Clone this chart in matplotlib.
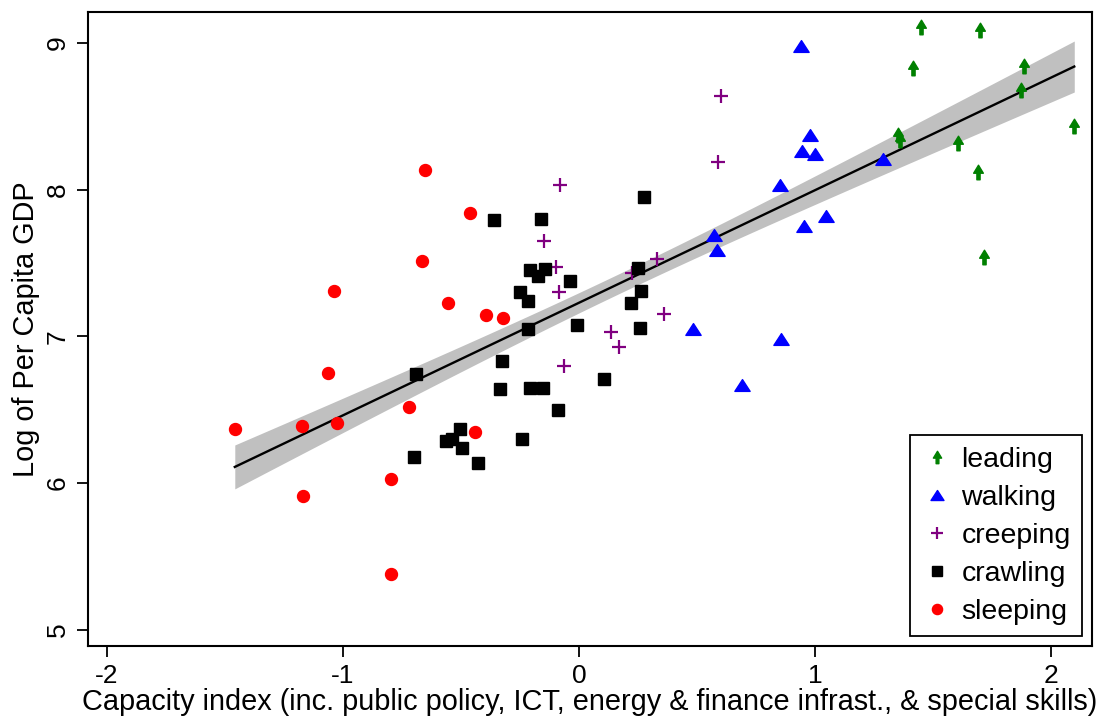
import numpy as np
import matplotlib
matplotlib.use("Agg")
import matplotlib.pyplot as plt
from matplotlib.path import Path

plt.rcParams['font.family'] = ['Liberation Sans', 'DejaVu Sans']
plt.rcParams['axes.unicode_minus'] = False

# data (capacity index, log GDP per capita)
leading_x = [1.448, 1.699, 1.414, 1.886, 1.873, 1.353, 1.360, 1.605, 2.099, 1.692, 1.716]
leading_y = [9.11, 9.09, 8.83, 8.84, 8.68, 8.37, 8.34, 8.32, 8.43, 8.12, 7.54]

walking_x = [0.941, 0.980, 0.945, 1.000, 0.852, 1.047, 0.952, 0.573, 0.585, 0.484, 0.857, 0.689, 1.290]
walking_y = [8.98, 8.37, 8.26, 8.24, 8.03, 7.82, 7.75, 7.69, 7.59, 7.05, 6.98, 6.67, 8.21]

creeping_x = [-0.082, -0.147, -0.095, -0.086, 0.329, 0.223, 0.362, 0.138, 0.171, -0.064, 0.602, 0.590]
creeping_y = [8.03, 7.65, 7.47, 7.30, 7.53, 7.43, 7.15, 7.03, 6.93, 6.80, 8.64, 8.19]

crawling_x = [-0.691, -0.697, -0.565, -0.539, -0.504, -0.496, -0.429, -0.360, -0.161, 0.275,
              -0.208, -0.144, -0.175, -0.038, -0.251, -0.217, -0.217, -0.010, 0.249, 0.263,
              0.219, 0.257, -0.325, -0.336, -0.208, -0.150, 0.106, -0.090, -0.243]
crawling_y = [6.74, 6.18, 6.29, 6.30, 6.37, 6.24, 6.14, 7.79, 7.80, 7.95,
              7.45, 7.46, 7.41, 7.375, 7.30, 7.24, 7.05, 7.075, 7.465, 7.31,
              7.23, 7.06, 6.83, 6.64, 6.65, 6.65, 6.71, 6.50, 6.30]

sleeping_x = [-1.458, -1.175, -1.027, -1.061, -1.037, -1.171, -0.797, -0.798, -0.719, -0.654,
              -0.665, -0.462, -0.556, -0.395, -0.321, -0.441]
sleeping_y = [6.37, 6.39, 6.41, 6.75, 7.31, 5.91, 6.03, 5.38, 6.52, 8.13,
              7.51, 7.84, 7.23, 7.145, 7.125, 6.35]

# linear fit with confidence band of the mean prediction
all_x = np.array(leading_x + walking_x + creeping_x + crawling_x + sleeping_x)
all_y = np.array(leading_y + walking_y + creeping_y + crawling_y + sleeping_y)
n = len(all_x)
slope, intercept = np.polyfit(all_x, all_y, 1)
resid = all_y - (intercept + slope * all_x)
s = np.sqrt(np.sum(resid ** 2) / (n - 2))
xbar = all_x.mean()
sxx = np.sum((all_x - xbar) ** 2)
xs = np.linspace(all_x.min(), all_x.max(), 200)
fit = intercept + slope * xs
se = s * np.sqrt(1 / n + (xs - xbar) ** 2 / sxx)
t = 1.15
lo, hi = fit - t * se, fit + t * se

# arrow marker for the leading group
arrow = Path([(0, 1.5), (1, -0.15), (0.33, -0.15), (0.33, -1.5), (-0.33, -1.5),
              (-0.33, -0.15), (-1, -0.15), (0, 1.5)],
             [Path.MOVETO] + [Path.LINETO] * 6 + [Path.CLOSEPOLY])
tri = Path([(0, 0.77), (1, -0.77), (-1, -0.77), (0, 0.77)],
           [Path.MOVETO, Path.LINETO, Path.LINETO, Path.CLOSEPOLY])

fig = plt.figure(figsize=(11, 7.17), dpi=100)
ax = fig.add_axes([0.08, 0.099, 0.9127, 0.8843])

ax.fill_between(xs, lo, hi, color='#c0c0c0', linewidth=0, zorder=1)
ax.plot(xs, fit, color='black', linewidth=1.7, zorder=2)

ax.plot(leading_x, leading_y, linestyle='none', marker=arrow, markersize=10.5,
        color='#008000', label='leading', zorder=3)
ax.plot(walking_x, walking_y, linestyle='none', marker=tri, markersize=11,
        color='#0000ff', label='walking', zorder=3)
ax.plot(creeping_x, creeping_y, linestyle='none', marker='+', markersize=9.5,
        markeredgewidth=1.6, color='#800080', label='creeping', zorder=3)
ax.plot(crawling_x, crawling_y, linestyle='none', marker='s', markersize=8.5,
        color='black', label='crawling', zorder=3)
ax.plot(sleeping_x, sleeping_y, linestyle='none', marker='o', markersize=8.6,
        color='#ff0000', label='sleeping', zorder=3)

ax.set_xlim(-2.08, 2.174)
ax.set_ylim(4.89, 9.21)
ax.set_xticks([-2, -1, 0, 1, 2])
ax.set_yticks([5, 6, 7, 8, 9])
ax.tick_params(direction='out', length=8, width=1.3, labelsize=19, pad=5)
for lab in ax.get_yticklabels():
    lab.set_rotation(90)
    lab.set_va('center')
for sp in ax.spines.values():
    sp.set_linewidth(1.5)

ax.set_xlabel("Capacity index (inc. public policy, ICT, energy & finance infrast., & special skills)",
              fontsize=20.8, labelpad=0)
ax.set_ylabel("Log of Per Capita GDP", fontsize=20.8, labelpad=4)

leg = ax.legend(loc='lower right', fontsize=20.5, fancybox=False, edgecolor='black',
                framealpha=1, borderaxespad=0.35, handletextpad=0.3, labelspacing=0.42,
                handlelength=1.1, markerscale=0.85, borderpad=0.4)
leg.get_frame().set_linewidth(1.3)

fig.savefig('out.png', dpi=100)
